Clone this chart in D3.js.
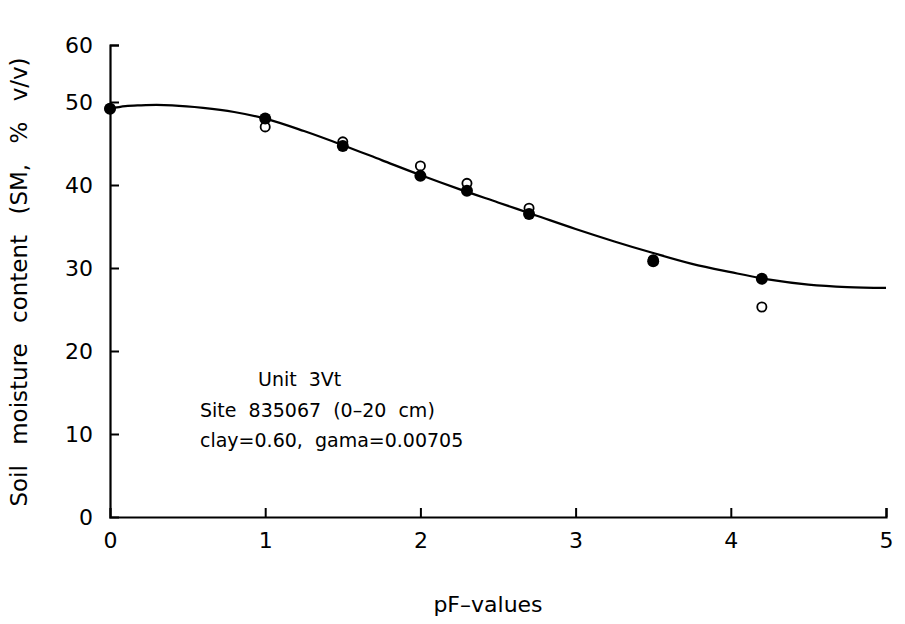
<!DOCTYPE html>
<html><head><meta charset="utf-8">
<script src="https://cdn.jsdelivr.net/npm/d3@7"></script>
<style>body{margin:0;background:#fff}svg{display:block}text{font-family:"DejaVu Sans",sans-serif;fill:#000}</style>
</head><body><svg id="c" width="905" height="624"></svg>
<script>
const pfPoints = [0, 1, 1.5, 2, 2.3, 2.7, 3.5, 4.2];
const smFilled = [49.2, 48.0, 44.7, 41.1, 39.3, 36.5, 30.8, 28.7];
const smOpen   = [49.2, 47.0, 45.2, 42.3, 40.2, 37.2, 31.0, 25.3];
const curvePF = [0,0.1,0.2,0.3,0.4,0.6,0.8,1.0,1.25,1.5,1.75,2.0,2.25,2.5,2.75,3.0,3.25,3.5,3.75,4.0,4.25,4.5,4.75,5.0];
const curveSM = [49.2,49.5,49.6,49.65,49.6,49.3,48.8,48.0,46.5,44.8,43.0,41.2,39.5,37.9,36.3,34.7,33.2,31.8,30.5,29.5,28.6,28.0,27.7,27.6];
const xTicks = [0,1,2,3,4,5];
const yTicks = [0,10,20,30,40,50,60];
const annotation = ["Unit  3Vt", "Site  835067  (0\u201320  cm)", "clay=0.60,  gama=0.00705"];

const svg = d3.select("#c");
const x = d3.scaleLinear().domain([0,5]).range([110,886]);
const y = d3.scaleLinear().domain([0,50,60]).range([517,102,45]);

const FONT = "'DejaVu Sans',sans-serif";
// axes
const xa = svg.append("g").attr("transform","translate(0,517)")
  .call(d3.axisBottom(x).tickValues(xTicks).tickSize(-9).tickPadding(15).tickFormat(d3.format("d")));
const ya = svg.append("g").attr("transform","translate(110,0)")
  .call(d3.axisLeft(y).tickValues(yTicks).tickSize(-9).tickPadding(17).tickFormat(d3.format("d")));
[xa,ya].forEach(a=>{
  a.attr("font-size",22).attr("font-family",FONT);
  a.select(".domain").attr("stroke","#000").attr("stroke-width",2.2);
  a.selectAll(".tick line").attr("stroke","#000").attr("stroke-width",2);
  a.selectAll(".tick text").attr("fill","#000");
});
xa.selectAll(".tick").filter(d=>d===0).select("line").remove();
ya.selectAll(".tick").filter(d=>d===0).select("line").remove();

// curve
const line = d3.line().x((d,i)=>x(curvePF[i])).y(d=>y(d)).curve(d3.curveMonotoneX);
svg.append("path").datum(curveSM).attr("d",line).attr("fill","none").attr("stroke","#000").attr("stroke-width",2.2);

// open points
svg.append("g").selectAll("circle").data(smOpen).join("circle")
  .attr("cx",(d,i)=>x(pfPoints[i])).attr("cy",d=>y(d)).attr("r",4.6)
  .attr("fill","#fff").attr("stroke","#000").attr("stroke-width",1.8);
// filled points
svg.append("g").selectAll("circle").data(smFilled).join("circle")
  .attr("cx",(d,i)=>x(pfPoints[i])).attr("cy",d=>y(d)).attr("r",6).attr("fill","#000");

// annotation
const ax = [258,200,200], ay=[386,417,447];
svg.append("g").selectAll("text").data(annotation).join("text")
  .attr("x",(d,i)=>ax[i]).attr("y",(d,i)=>ay[i]).attr("font-size","19px")
  .style("white-space","pre").text(d=>d);

// axis titles
svg.append("text").attr("x",488).attr("y",612).attr("text-anchor","middle").attr("font-size","22px").text("pF\u2013values");
svg.append("text").attr("transform","translate(27,282) rotate(-90)").attr("text-anchor","middle")
  .attr("font-size","23px").attr("word-spacing","13px").text("Soil moisture content (SM, % v/v)");
</script></body></html>
